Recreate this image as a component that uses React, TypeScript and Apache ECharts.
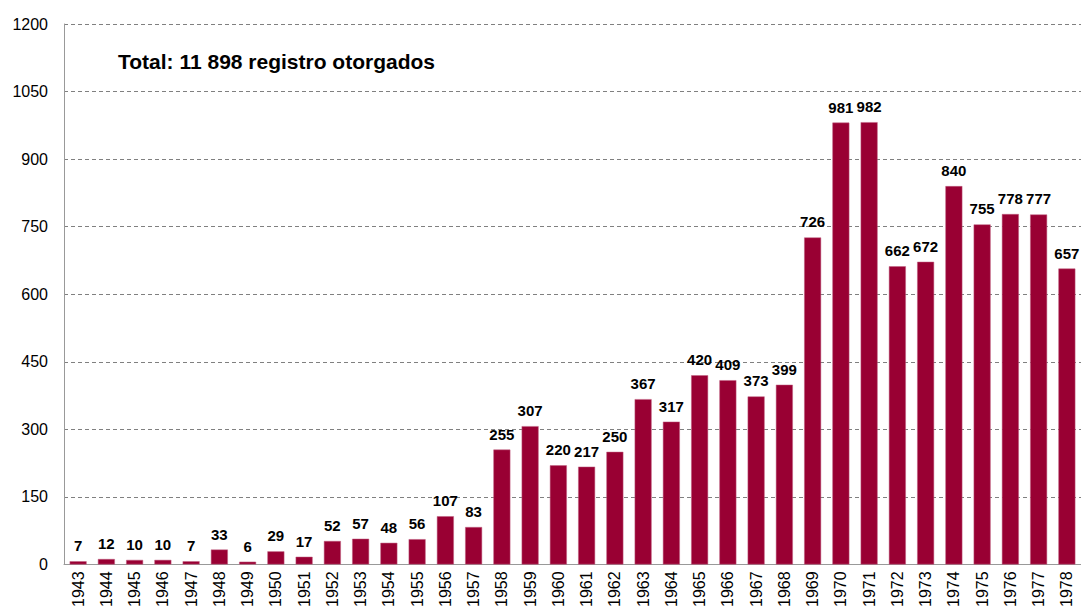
import React, { useEffect, useRef } from "react";
import * as echarts from "echarts";

const years = [
  "1943", "1944", "1945", "1946", "1947", "1948", "1949", "1950", "1951", "1952",
  "1953", "1954", "1955", "1956", "1957", "1958", "1959", "1960", "1961", "1962",
  "1963", "1964", "1965", "1966", "1967", "1968", "1969", "1970", "1971", "1972",
  "1973", "1974", "1975", "1976", "1977", "1978",
];
const registros = [
  7, 12, 10, 10, 7, 33, 6, 29, 17, 52,
  57, 48, 56, 107, 83, 255, 307, 220, 217, 250,
  367, 317, 420, 409, 373, 399, 726, 981, 982, 662,
  672, 840, 755, 778, 777, 657,
];
const titleText = "Total: 11 898 registro otorgados";

const FONT = "'Liberation Sans', Arial, sans-serif";

export default function App() {
  const ref = useRef<HTMLDivElement>(null);
  useEffect(() => {
    if (!ref.current) return;
    const chart = echarts.init(ref.current, undefined, { renderer: "svg" });
    chart.setOption({
      animation: false,
      backgroundColor: "#ffffff",
      textStyle: { fontFamily: FONT },
      title: {
        text: titleText,
        left: 118,
        top: 51,
        padding: 0,
        textStyle: { fontSize: 21, fontWeight: "bold", color: "#000", fontFamily: FONT },
      },
      grid: { left: 64, right: 0, top: 24, bottom: 45, containLabel: false },
      xAxis: {
        type: "category",
        data: years,
        axisLine: { show: true, lineStyle: { color: "#999999", width: 1 } },
        axisTick: { show: false },
        axisLabel: {
          rotate: 90,
          interval: 0,
          margin: 7,
          fontSize: 16,
          color: "#000",
          fontFamily: FONT,
        },
      },
      yAxis: {
        type: "value",
        min: 0,
        max: 1200,
        interval: 150,
        axisLine: { show: true, lineStyle: { color: "#999999", width: 1 } },
        axisTick: { show: false },
        axisLabel: {
          margin: 16,
          fontSize: 16,
          color: "#000",
          fontFamily: FONT,
          formatter: (v: number) => String(v),
        },
        splitLine: { show: true, lineStyle: { color: "#808080", type: [4, 3], width: 1 } },
      },
      series: [
        {
          type: "bar",
          data: registros,
          barWidth: "60%",
          itemStyle: { color: "#990033", borderColor: "#c06080", borderWidth: 0.5 },
          label: {
            show: true,
            position: "top",
            distance: 8,
            fontSize: 15,
            fontWeight: "bold",
            color: "#000",
            fontFamily: FONT,
          },
        },
      ],
    });
    return () => chart.dispose();
  }, []);
  return (
    <div
      ref={ref}
      style={{ position: "fixed", left: 0, top: 0, width: 1081, height: 610, background: "#fff" }}
    />
  );
}
